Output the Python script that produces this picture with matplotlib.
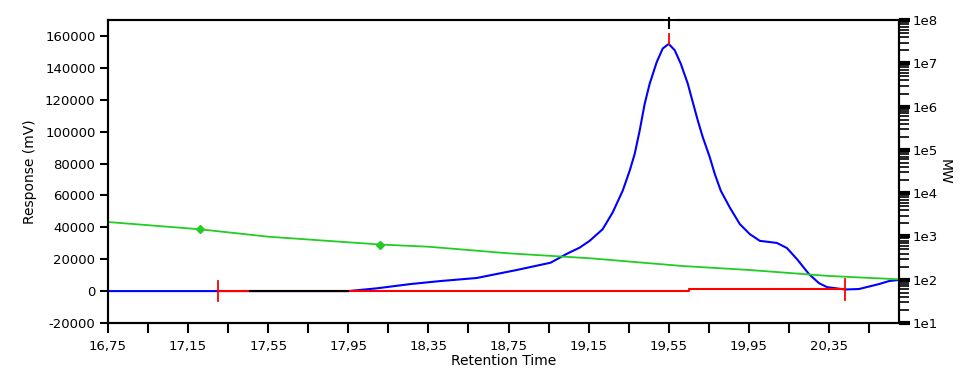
import math

import matplotlib
matplotlib.use("Agg")
import matplotlib.pyplot as plt
from matplotlib.ticker import FixedLocator, FuncFormatter, LogLocator, NullFormatter

# signal trace (retention time, response in mV)
sig_time = [16.75, 17.30, 17.95, 18.09, 18.26, 18.41, 18.59, 18.79, 18.96, 19.04,
            19.105, 19.155, 19.22, 19.27, 19.32, 19.355, 19.38, 19.405, 19.43, 19.455,
            19.49, 19.52, 19.55, 19.58, 19.61, 19.645, 19.67, 19.695, 19.72, 19.755,
            19.78, 19.81, 19.855, 19.905, 19.955, 20.005, 20.09, 20.14, 20.19, 20.25,
            20.30, 20.34, 20.43, 20.50, 20.60, 20.65, 20.70]
sig_resp = [0, 0, 0, 1700, 4400, 6300, 8200, 13200, 17800, 23300,
            27250, 31500, 38800, 49300, 62900, 75500, 86000, 100700, 117500, 130100,
            143600, 152100, 155000, 151000, 142600, 130100, 118500, 107000, 96500, 83900,
            73400, 62900, 52400, 42000, 35700, 31500, 30200, 27000, 20100, 10700,
            5000, 2500, 1000, 1300, 4400, 6300, 7000]

# unintegrated stretch drawn in black
flat_time = [17.46, 17.95]
flat_resp = [0, 0]

# integration baseline
base_time = [17.30, 19.65, 19.65, 20.43]
base_resp = [0, 0, 1000, 1000]
peak_start, peak_top, peak_end = 17.30, 19.55, 20.43
peak_height = 155000

# calibration curve (MW, log axis)
cal_time = [16.75, 17.21, 17.55, 17.95, 18.11, 18.35, 18.75, 19.16, 19.62, 19.95, 20.35, 20.70]
cal_mw = [2150, 1460, 985, 731, 650, 578, 407, 312, 207, 168, 122, 102]
std_time = [17.21, 18.11]
std_mw = [1460, 650]

x_major = [16.75, 17.15, 17.55, 17.95, 18.35, 18.75, 19.15, 19.55, 19.95, 20.35]
x_minor = [16.95, 17.35, 17.75, 18.15, 18.55, 18.95, 19.35, 19.75, 20.15, 20.55]
y_ticks = [-20000, 0, 20000, 40000, 60000, 80000, 100000, 120000, 140000, 160000]

plt.rcParams["font.family"] = ["DejaVu Sans"]
plt.rcParams["font.size"] = 9.5

fig = plt.figure(figsize=(9.6, 3.75), dpi=100)
ax = fig.add_axes([0.1125, 0.1387, 0.824, 0.808])
ax2 = ax.twinx()

ax.plot(sig_time, sig_resp, color="#0000ff", lw=1.5, zorder=2)
ax.plot(base_time, base_resp, color="#ff0000", lw=1.5, zorder=3)
ax.plot(flat_time, flat_resp, color="black", lw=1.5, zorder=4)

# peak markers
ax.plot([peak_start, peak_start], [-6500, 6500], color="#ff0000", lw=1.3, zorder=5)
ax.plot([peak_end, peak_end], [base_resp[-1] - 6500, base_resp[-1] + 6500],
        color="#ff0000", lw=1.3, zorder=5)
ax.plot([peak_top, peak_top], [peak_height, peak_height + 6500], color="#ff0000", lw=1.3, zorder=5)

ax2.plot(cal_time, cal_mw, color="#22cc22", lw=1.3)
ax2.plot(std_time, std_mw, ls="none", marker="D", ms=4, color="#22cc22")

ax.set_xlim(16.75, 20.70)
ax.set_ylim(-20000, 170000)
ax2.set_yscale("log")
ax2.set_ylim(10, 1e8)

ax.xaxis.set_major_locator(FixedLocator(x_major))
ax.xaxis.set_minor_locator(FixedLocator(x_minor))
ax.xaxis.set_major_formatter(FuncFormatter(lambda v, p: f"{v:.2f}".replace(".", ",")))
ax.set_yticks(y_ticks)
ax.yaxis.set_major_formatter(FuncFormatter(lambda v, p: f"{v:.0f}"))

ax2.yaxis.set_major_locator(LogLocator(base=10, numticks=20))
ax2.yaxis.set_minor_locator(LogLocator(base=10, subs=range(2, 10), numticks=20))
ax2.yaxis.set_minor_formatter(NullFormatter())
ax2.yaxis.set_major_formatter(FuncFormatter(lambda v, p: f"1e{int(round(math.log10(v)))}"))

ax.tick_params(axis="x", which="both", direction="out", length=7, width=1.5, pad=5)
ax.tick_params(axis="y", direction="out", length=6, width=1.5, pad=3)
ax2.tick_params(axis="y", which="major", direction="out", length=8, width=3, pad=2)
ax2.tick_params(axis="y", which="minor", direction="out", length=7, width=1.2)

for a in (ax, ax2):
    for s in a.spines.values():
        s.set_linewidth(1.5)

ax.set_xlabel("Retention Time", fontsize=10, labelpad=1)
ax.set_ylabel("Response (mV)", fontsize=10, labelpad=6)
ax2.set_ylabel("MW", fontsize=10, rotation=270, labelpad=10)

# break in the top frame with a small tick above the apex
ax.plot([peak_top - 0.02, peak_top + 0.02], [170000, 170000], color="white", lw=3,
        clip_on=False, zorder=6)
ax.plot([peak_top, peak_top], [165000, 171500], color="black", lw=1.5,
        clip_on=False, zorder=7)

fig.savefig("out.png", dpi=100)
